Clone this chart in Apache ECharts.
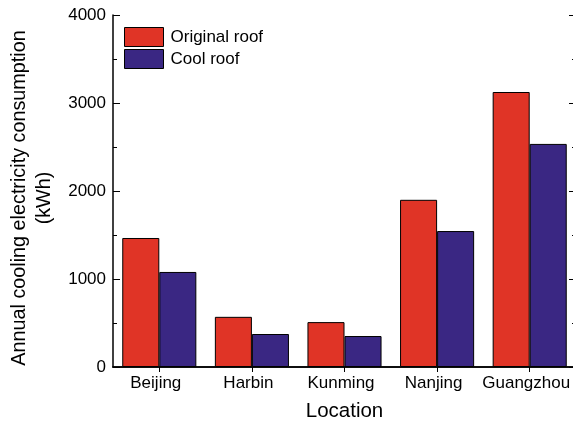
<!DOCTYPE html>
<html><head><meta charset="utf-8">
<script src="https://cdn.jsdelivr.net/npm/echarts@6/dist/echarts.min.js"></script>
<style>html,body{margin:0;padding:0;background:#fff}#c{width:573px;height:422px}</style>
</head><body><div id="c"></div>
<script>
const categories = ['Beijing', 'Harbin', 'Kunming', 'Nanjing', 'Guangzhou'];
const originalRoof = [1466, 570, 510, 1900, 3125];
const coolRoof = [1080, 375, 352, 1545, 2535];
const seriesNames = ['Original roof', 'Cool roof'];
const yTitle = 'Annual cooling electricity consumption\n(kWh)';
const xTitle = 'Location';

const FONT = '"Liberation Sans", Arial, sans-serif';
const chart = echarts.init(document.getElementById('c'), null, {renderer: 'canvas'});
chart.setOption({
  animation: false,
  backgroundColor: '#fff',
  textStyle: {fontFamily: FONT},
  grid: {left: 113, right: -3, top: 15, bottom: 55, containLabel: false, outerBoundsMode: 'none'},
  legend: {
    left: 124, top: 27, padding: 0, orient: 'vertical', itemWidth: 39, itemHeight: 19, itemGap: 2,
    icon: 'rect',
    textStyle: {fontFamily: FONT, fontSize: 17, color: '#000', padding: [0, 0, 0, 2]},
    itemStyle: {borderColor: '#000', borderWidth: 1},
    data: seriesNames
  },
  xAxis: [{
    type: 'category', data: categories, position: 'bottom',
    axisLine: {lineStyle: {color: '#000', width: 1.5}},
    axisTick: {show: false},
    axisLabel: {color: '#000', fontSize: 17, margin: 8, interval: 0, fontFamily: FONT, padding: [0, 7, 0, 0]},
    name: xTitle, nameLocation: 'middle', nameGap: 34,
    nameTextStyle: {color: '#000', fontSize: 20.5, fontFamily: FONT}
  }, {
    type: 'category', data: categories, position: 'top',
    axisLine: {lineStyle: {color: '#000', width: 1.5}},
    axisTick: {show: true, inside: true, alignWithLabel: true, interval: 0, length: 5, lineStyle: {color: '#000'}},
    axisLabel: {show: false, interval: 0}
  }],
  yAxis: [{
    type: 'value', min: 0, max: 4000, interval: 1000, position: 'left',
    axisLine: {show: true, lineStyle: {color: '#000', width: 1.5}},
    axisTick: {show: true, inside: true, length: 7, lineStyle: {color: '#000'}},
    minorTick: {show: true, splitNumber: 2, length: 4, lineStyle: {color: '#000'}},
    splitLine: {show: false},
    axisLabel: {color: '#000', fontSize: 17, margin: 7, fontFamily: FONT, formatter: v => String(v)}
  }, {
    type: 'value', min: 0, max: 4000, interval: 1000, position: 'right',
    axisLine: {show: true, lineStyle: {color: '#000', width: 1.5}},
    axisTick: {show: true, inside: true, length: 7, lineStyle: {color: '#000'}},
    minorTick: {show: true, splitNumber: 2, length: 4, lineStyle: {color: '#000'}},
    splitLine: {show: false},
    axisLabel: {show: false}
  }],
  graphic: [{
    type: 'text', x: 32, y: 198, rotation: Math.PI / 2,
    style: {text: yTitle, fontFamily: FONT, fontSize: 19.8, fill: '#000', align: 'center', verticalAlign: 'middle', lineHeight: 25}
  }],
  series: [{
    name: seriesNames[0], type: 'bar', data: originalRoof, barCategoryGap: '20%', barGap: '0%',
    itemStyle: {color: '#E03426', borderColor: '#000', borderWidth: 1}
  }, {
    name: seriesNames[1], type: 'bar', data: coolRoof, barCategoryGap: '20%', barGap: '0%',
    itemStyle: {color: '#3A2783', borderColor: '#000', borderWidth: 1}
  }]
});
</script></body></html>
